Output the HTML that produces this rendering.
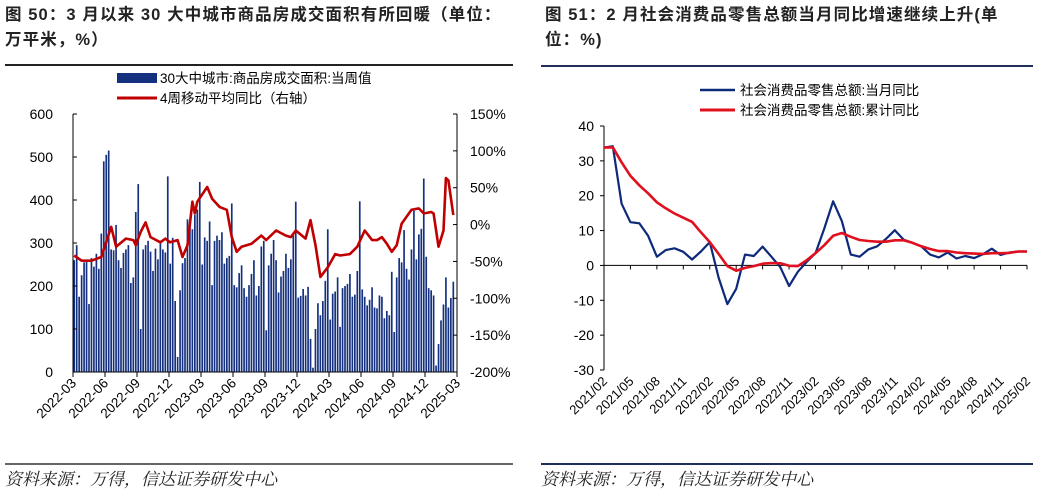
<!DOCTYPE html>
<html><head><meta charset="utf-8"><style>
body{margin:0;width:1046px;height:492px;background:#fff;overflow:hidden;font-family:"Liberation Sans","Noto Sans CJK SC",sans-serif}
.t{position:absolute;font-size:16.5px;font-weight:bold;color:#222;letter-spacing:1.1px}
.src{position:absolute;font-size:17px;font-style:italic;color:#222;font-family:"Noto Serif CJK SC","Liberation Serif",serif}
</style></head><body>
<div class="t" style="left:5px;top:3px;line-height:25px">图 50：3 月以来 30 大中城市商品房成交面积有所回暖（单位：<br>万平米，%）</div>
<div class="t" style="left:545px;top:3px;line-height:25px">图 51：2 月社会消费品零售总额当月同比增速继续上升(单<br>位：%)</div>
<div style="position:absolute;left:5px;top:64px;width:508px;height:1.5px;background:#222"></div>
<div style="position:absolute;left:541px;top:65px;width:492px;height:2px;background:#1f2f5a"></div>
<div style="position:absolute;left:5px;top:463px;width:508px;height:1.5px;background:#666"></div>
<div style="position:absolute;left:541px;top:463px;width:492px;height:2px;background:#1f2f5a"></div>
<div class="src" style="left:5px;top:465px">资料来源：万得，信达证券研发中心</div>
<div class="src" style="left:541px;top:465px">资料来源：万得，信达证券研发中心</div>
<svg id="c1" width="1046" height="492" style="position:absolute;left:0;top:0" font-family="Liberation Sans, Noto Sans CJK SC, sans-serif"></svg>
<script>
const barVals=[260,295,175,225,255,258,158,265,245,275,240,322,490,
505,515,285,283,342,260,242,277,285,295,207,220,372,
437,100,285,295,305,280,235,287,262,300,285,278,455,
252,312,165,35,190,253,265,355,342,332,365,378,442,
250,313,305,350,202,305,317,307,325,252,265,270,392,
202,197,230,248,195,175,202,228,260,178,200,292,305,
97,248,275,307,260,185,222,235,275,242,262,318,396,
173,177,193,178,198,77,10,100,160,132,165,212,332,
122,182,187,220,105,195,200,205,228,175,180,235,397,
192,175,155,168,197,150,148,178,175,125,142,132,233,
93,220,265,255,330,240,215,285,375,262,320,333,450,
268,195,190,178,15,65,120,157,220,150,172,210];
const lineWeek=[0,3,7,11,15,17,21,24,25,27,29,31,35,37,39,42,44,46,48,49,50,54,56,59,62,64,66,68,72,76,78,82,86,88,90,94,96,98,100,103,106,108,112,115,118,121,123,125,127,129,131,133,137,140,142,145,146,148,150,151,152,154];
const lineVals=[-42,-49,-49,-44,-3,-30,-19,-21,-28,-10,3,-17,-24,-19,-24,-21,-44,-28,31,15,31,51,35,24,20,-17,-37,-30,-26,-15,-21,-8,-15,-17,-8,-19,6,-28,-71,-58,-40,-42,-40,-30,-8,-21,-21,-17,-26,-37,-28,1,20,22,15,17,15,-30,-8,63,60,13];
const xLabels1=["2022-03","2022-06","2022-09","2022-12","2023-03","2023-06","2023-09","2023-12","2024-03","2024-06","2024-09","2024-12","2025-03"];
const yTicksL=[0,100,200,300,400,500,600];
const yTicksR=[-200,-150,-100,-50,0,50,100,150];

const monthLabels=["2021/02","2021/05","2021/08","2021/11","2022/02","2022/05","2022/08","2022/11","2023/02","2023/05","2023/08","2023/11","2024/02","2024/05","2024/08","2024/11","2025/02"];
const monthlyYoY=[33.8,34.2,17.7,12.4,12.1,8.5,2.5,4.4,4.9,3.9,1.7,4,6.7,-3.5,-11.1,-6.7,3.1,2.7,5.4,2.5,-0.5,-5.9,-1.8,1,3.5,10.6,18.4,12.7,3.1,2.5,4.6,5.5,7.6,10.1,7.4,6.5,5.5,3.1,2.3,3.7,2.0,2.7,2.1,3.2,4.8,3.0,3.7,4,4.0];
const cumYoY=[33.8,33.9,29.6,25.7,23.0,20.7,18.1,16.4,14.9,13.7,12.5,9.5,6.7,3.3,-0.2,-1.5,-0.7,-0.2,0.5,0.7,0.6,-0.1,-0.2,1.5,3.5,5.8,8.5,9.3,8.2,7.3,7.0,6.8,6.8,7.2,7.2,6.5,5.5,4.7,4.1,4.1,3.7,3.5,3.4,3.3,3.5,3.5,3.6,4.0,4.0];
const yTicks2=[-30,-20,-10,0,10,20,30,40];

const NS="http://www.w3.org/2000/svg";
const svg=document.getElementById('c1');
function mk(tag,attrs,parent){const e=document.createElementNS(NS,tag);for(const k in attrs)e.setAttribute(k,attrs[k]);(parent||svg).appendChild(e);return e;}

// ---- left chart
const L={x0:73,x1:457,y0:372,y1:114};
const nB=barVals.length+1;
const bx=i=>L.x0+(i+0.5)*(L.x1-L.x0)/nB;
const yL=v=>L.y0-(v-0)/600*(L.y0-L.y1);
const yR=v=>L.y0-(v+200)/350*(L.y0-L.y1);
const bw=(L.x1-L.x0)/nB*0.68;
barVals.forEach((v,i)=>{
 const r=mk('rect',{x:bx(i)-bw/2,y:yL(v),width:bw,height:L.y0-yL(v),fill:'#14307f'});
 
 
});
let d='';lineWeek.forEach((w,i)=>{d+=(i?'L':'M')+bx(w).toFixed(1)+','+yR(lineVals[i]).toFixed(1);});
const pl=mk('path',{d:d,fill:'none',stroke:'#c00000','stroke-width':2.6,'stroke-linejoin':'round'});


mk('line',{x1:L.x0,y1:L.y1,x2:L.x0,y2:L.y0,stroke:'#000'});
mk('line',{x1:L.x1,y1:L.y1,x2:L.x1,y2:L.y0,stroke:'#000'});
mk('line',{x1:L.x0,y1:L.y0,x2:L.x1,y2:L.y0,stroke:'#000'});
yTicksL.forEach(v=>{mk('line',{x1:L.x0,x2:L.x0+4,y1:yL(v),y2:yL(v),stroke:'#000'});
 const t=mk('text',{x:L.x0-20,y:yL(v)+5,'text-anchor':'end','font-size':14});t.textContent=v;
 });
yTicksR.forEach(v=>{mk('line',{x1:L.x1-4,x2:L.x1,y1:yR(v),y2:yR(v),stroke:'#000'});
 const t=mk('text',{x:L.x1+13,y:yR(v)+5,'font-size':14});t.textContent=v+'%';
 });
xLabels1.forEach((s,i)=>{const x=L.x0+i*(L.x1-L.x0)/12;
 mk('line',{x1:x,x2:x,y1:L.y0,y2:L.y0+5,stroke:'#000'});
 const t=mk('text',{x:x+4,y:L.y0+12,'text-anchor':'end','font-size':13.5,transform:`rotate(-45 ${x+4} ${L.y0+12})`});t.textContent=s;
 });
mk('rect',{x:117,y:73,width:40,height:10,fill:'#14307f'});
let t=mk('text',{x:160,y:83,'font-size':13.5});t.textContent='30大中城市:商品房成交面积:当周值';

mk('line',{x1:117,x2:157,y1:98,y2:98,stroke:'#c00000','stroke-width':3});
t=mk('text',{x:160,y:103,'font-size':13.5});t.textContent='4周移动平均同比（右轴）';


// ---- right chart
const R={x0:604,x1:1027,y0:370,y1:126};
const mx=i=>R.x0+i*(R.x1-R.x0)/48;
const my=v=>R.y0-(v+30)/70*(R.y0-R.y1);
mk('line',{x1:R.x0,y1:R.y1,x2:R.x0,y2:R.y0,stroke:'#000'});
mk('line',{x1:R.x0,y1:my(0),x2:R.x1,y2:my(0),stroke:'#000'});
yTicks2.forEach(v=>{mk('line',{x1:R.x0-4,x2:R.x0,y1:my(v),y2:my(v),stroke:'#000'});
 const t=mk('text',{x:R.x0-10,y:my(v)+5,'text-anchor':'end','font-size':14});t.textContent=v;
 });
monthLabels.forEach((s,i)=>{const x=mx(i*3);
 mk('line',{x1:x,x2:x,y1:my(0),y2:my(0)+4,stroke:'#000'});
 const t=mk('text',{x:x+4,y:R.y0+12,'text-anchor':'end','font-size':13,transform:`rotate(-45 ${x+4} ${R.y0+12})`});t.textContent=s;
 });
function line(arr,col,w,name){let d='';arr.forEach((v,i)=>{d+=(i?'L':'M')+mx(i).toFixed(1)+','+my(v).toFixed(1);});
 const p=mk('path',{d:d,fill:'none',stroke:col,'stroke-width':w,'stroke-linejoin':'round'});
 }
line(monthlyYoY,'#0d2a7a',2.2,'monthly-yoy-line');
line(cumYoY,'#e0101e',2.6,'cumulative-yoy-line');
mk('line',{x1:700,x2:735,y1:90,y2:90,stroke:'#0d2a7a','stroke-width':2.5});
t=mk('text',{x:740,y:95,'font-size':13.5});t.textContent='社会消费品零售总额:当月同比';

mk('line',{x1:700,x2:735,y1:110,y2:110,stroke:'#e0101e','stroke-width':3});
t=mk('text',{x:740,y:115,'font-size':13.5});t.textContent='社会消费品零售总额:累计同比';

</script>
</body></html>
